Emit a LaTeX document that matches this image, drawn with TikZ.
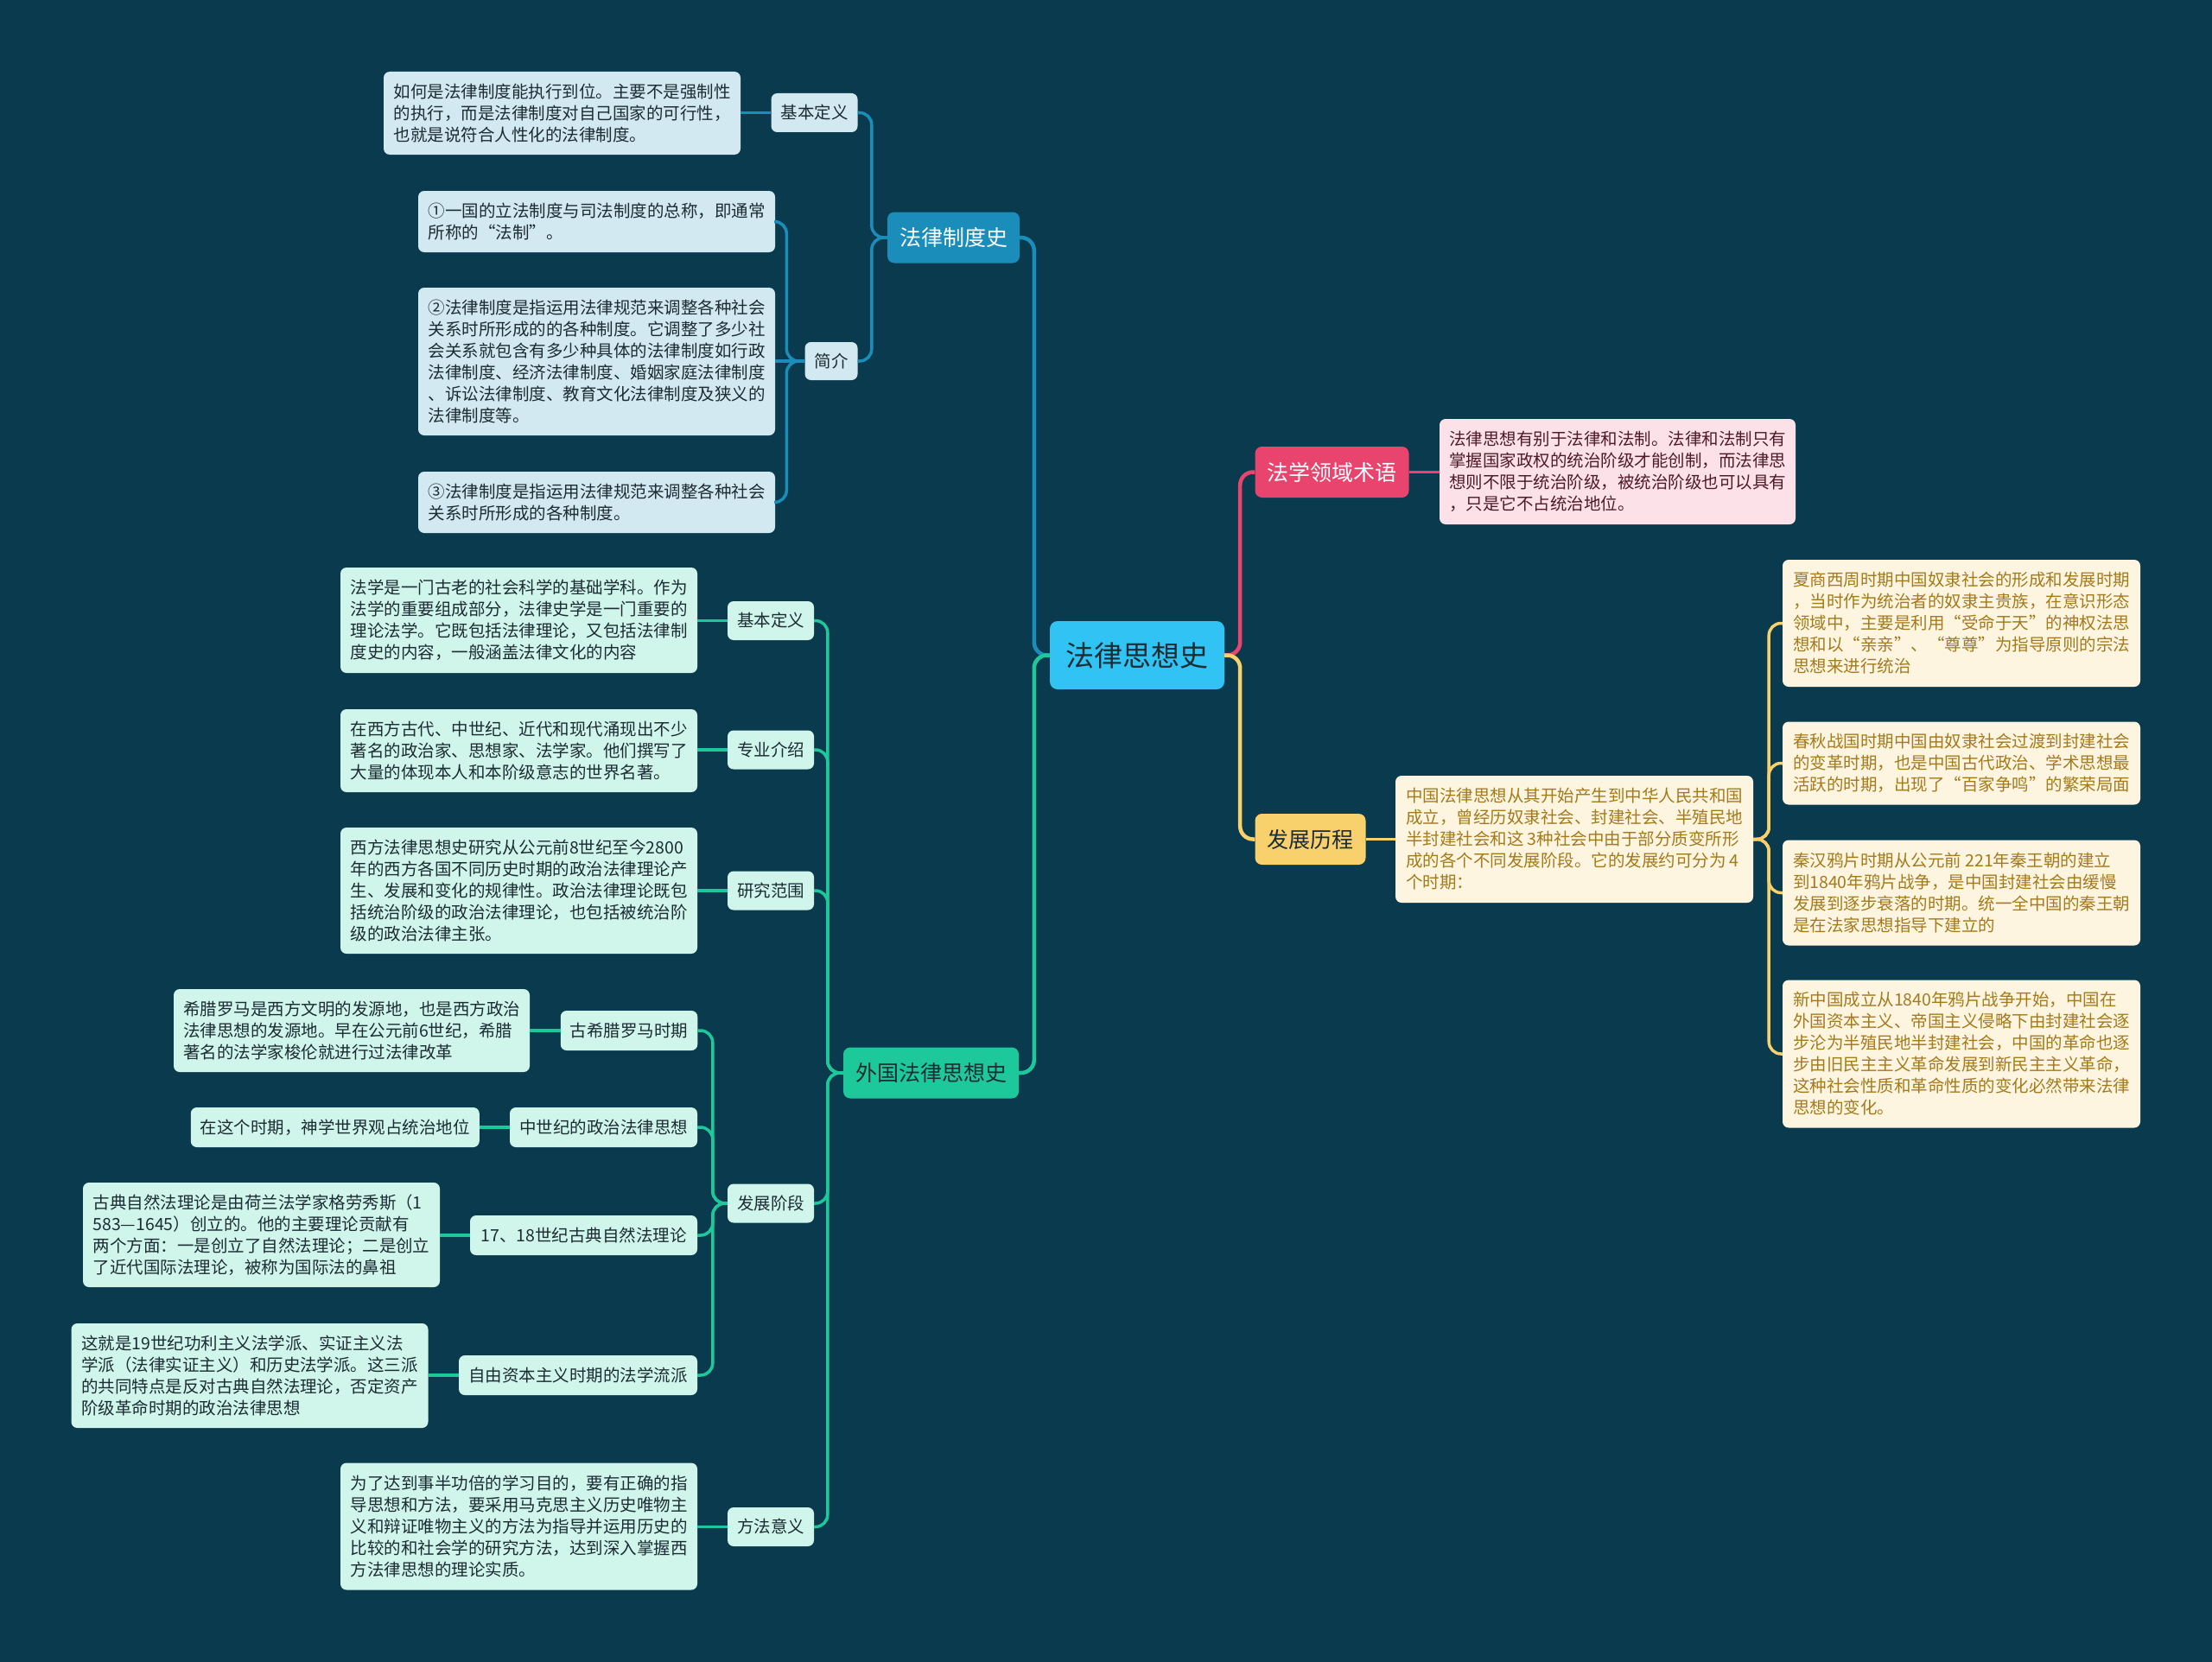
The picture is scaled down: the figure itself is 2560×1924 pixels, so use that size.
\documentclass[tikz,border=0pt]{standalone}
\usepackage{fontspec}
\setmainfont{Noto Sans CJK SC}
\definecolor{bgc}{HTML}{0A3A4D}
\definecolor{bluec}{HTML}{1B8DBB}
\definecolor{bluefill}{HTML}{D3E9F1}
\definecolor{pinkc}{HTML}{E8446E}
\definecolor{pinkfill}{HTML}{FCE2E8}
\definecolor{pinktext}{HTML}{4E1A29}
\definecolor{yelc}{HTML}{F8D16C}
\definecolor{yelfill}{HTML}{FDF5DF}
\definecolor{yeltext}{HTML}{A47A1C}
\definecolor{greenc}{HTML}{1DC99A}
\definecolor{greenfill}{HTML}{D0F5EB}
\definecolor{centerc}{HTML}{30C3F3}
\definecolor{darktext}{HTML}{1C2C33}
\tikzset{
  base/.style={rounded corners=7pt, align=left, inner xsep=11pt, inner ysep=0pt, font=\fontsize{19.5pt}{25pt}\selectfont},
  bluebox/.style={base, fill=bluefill, text=darktext},
  pinkbox/.style={base, fill=pinkfill, text=pinktext},
  yelbox/.style={base, fill=yelfill, text=yeltext},
  greenbox/.style={base, fill=greenfill, text=darktext},
  lvlone/.style={rounded corners=8pt, inner xsep=14pt, inner ysep=0pt, minimum height=59pt, font=\fontsize{25pt}{30pt}\selectfont},
  conn/.style={line width=3.5pt, rounded corners=14pt},
  mainconn/.style={line width=4.5pt, rounded corners=15pt},
}
\begin{document}
\begin{tikzpicture}[x=1pt,y=-1pt]
\fill[bgc] (0,0) rectangle (2560,1924);
\useasboundingbox (0,0) rectangle (2560,1924);

% center
\node[rounded corners=9pt, fill=centerc, text=darktext, minimum width=202pt, minimum height=79pt, inner sep=0pt, font=\fontsize{33pt}{38pt}\selectfont] (c) at (1316,758.5) {法律思想史};

% level one
\node[lvlone, fill=bluec, text=white, minimum width=153pt] (zd) at (1103.5,275) {法律制度史};
\node[lvlone, fill=greenc, text=darktext, minimum width=203pt] (wg) at (1077.5,1242) {外国法律思想史};
\node[lvlone, fill=pinkc, text=white, minimum width=177pt] (fx) at (1541.5,546.5) {法学领域术语};
\node[lvlone, fill=yelc, text=darktext, minimum width=127pt] (fz) at (1516.5,971.5) {发展历程};

% blue branch
\node[bluebox, align=center, minimum width=99pt, minimum height=45pt] (a1) at (942.5,130.5) {基本定义};
\node[bluebox, align=center, minimum width=60pt, minimum height=44pt] (jj) at (962,418) {简介};
\node[bluebox, minimum width=413pt, minimum height=96pt] (t1) at (650.5,131) {如何是法律制度能执行到位。主要不是强制性\\的执行，而是法律制度对自己国家的可行性，\\也就是说符合人性化的法律制度。};
\node[bluebox, minimum width=413pt, minimum height=71pt] (n1) at (690.5,256.5) {①一国的立法制度与司法制度的总称，即通常\\所称的“法制”。};
\node[bluebox, minimum width=413pt, minimum height=171pt] (n2) at (690.5,418.5) {②法律制度是指运用法律规范来调整各种社会\\关系时所形成的的各种制度。它调整了多少社\\会关系就包含有多少种具体的法律制度如行政\\法律制度、经济法律制度、婚姻家庭法律制度\\、诉讼法律制度、教育文化法律制度及狭义的\\法律制度等。};
\node[bluebox, minimum width=413pt, minimum height=71pt] (n3) at (690.5,581.5) {③法律制度是指运用法律规范来调整各种社会\\关系时所形成的各种制度。};

% pink branch
\node[pinkbox, minimum width=412pt, minimum height=122pt] (pt) at (1872,546) {法律思想有别于法律和法制。法律和法制只有\\掌握国家政权的统治阶级才能创制，而法律思\\想则不限于统治阶级，被统治阶级也可以具有\\，只是它不占统治地位。};

% yellow branch
\node[yelbox, minimum width=414pt, minimum height=147pt] (zt) at (1822,971.5) {中国法律思想从其开始产生到中华人民共和国\\成立，曾经历奴隶社会、封建社会、半殖民地\\半封建社会和这 3种社会中由于部分质变所形\\成的各个不同发展阶段。它的发展约可分为 4\\个时期：};
\node[yelbox, minimum width=414pt, minimum height=147pt] (r1) at (2270,721.5) {夏商西周时期中国奴隶社会的形成和发展时期\\，当时作为统治者的奴隶主贵族，在意识形态\\领域中，主要是利用“受命于天”的神权法思\\想和以“亲亲”、“尊尊”为指导原则的宗法\\思想来进行统治};
\node[yelbox, minimum width=414pt, minimum height=96pt] (r2) at (2270,883.5) {春秋战国时期中国由奴隶社会过渡到封建社会\\的变革时期，也是中国古代政治、学术思想最\\活跃的时期，出现了“百家争鸣”的繁荣局面};
\node[yelbox, minimum width=414pt, minimum height=122pt] (r3) at (2270,1033.5) {秦汉鸦片时期从公元前 221年秦王朝的建立\\到1840年鸦片战争，是中国封建社会由缓慢\\发展到逐步衰落的时期。统一全中国的秦王朝\\是在法家思想指导下建立的};
\node[yelbox, minimum width=414pt, minimum height=171pt] (r4) at (2270,1220) {新中国成立从1840年鸦片战争开始，中国在\\外国资本主义、帝国主义侵略下由封建社会逐\\步沦为半殖民地半封建社会，中国的革命也逐\\步由旧民主主义革命发展到新民主主义革命，\\这种社会性质和革命性质的变化必然带来法律\\思想的变化。};

% green branch labels
\node[greenbox, align=center, minimum width=100pt, minimum height=45pt] (b1) at (892,718.5) {基本定义};
\node[greenbox, align=center, minimum width=100pt, minimum height=45pt] (b2) at (892,868) {专业介绍};
\node[greenbox, align=center, minimum width=100pt, minimum height=45pt] (b3) at (892,1031) {研究范围};
\node[greenbox, align=center, minimum width=100pt, minimum height=45pt] (b4) at (892,1393) {发展阶段};
\node[greenbox, align=center, minimum width=100pt, minimum height=45pt] (b5) at (892,1767.5) {方法意义};
% green branch texts
\node[greenbox, minimum width=413pt, minimum height=122pt] (bt1) at (600.5,718) {法学是一门古老的社会科学的基础学科。作为\\法学的重要组成部分，法律史学是一门重要的\\理论法学。它既包括法律理论，又包括法律制\\度史的内容，一般涵盖法律文化的内容};
\node[greenbox, minimum width=413pt, minimum height=96pt] (bt2) at (600.5,869) {在西方古代、中世纪、近代和现代涌现出不少\\著名的政治家、思想家、法学家。他们撰写了\\大量的体现本人和本阶级意志的世界名著。};
\node[greenbox, minimum width=413pt, minimum height=146pt] (bt3) at (600.5,1031) {西方法律思想史研究从公元前8世纪至今2800\\年的西方各国不同历史时期的政治法律理论产\\生、发展和变化的规律性。政治法律理论既包\\括统治阶级的政治法律理论，也包括被统治阶\\级的政治法律主张。};
\node[greenbox, minimum width=413pt, minimum height=147pt] (bt5) at (600.5,1767) {为了达到事半功倍的学习目的，要有正确的指\\导思想和方法，要采用马克思主义历史唯物主\\义和辩证唯物主义的方法为指导并运用历史的\\比较的和社会学的研究方法，达到深入掌握西\\方法律思想的理论实质。};
% development stages
\node[greenbox, align=center, minimum width=158pt, minimum height=46pt] (c1) at (728,1193) {古希腊罗马时期};
\node[greenbox, align=center, minimum width=217pt, minimum height=46pt] (c2) at (698.5,1305) {中世纪的政治法律思想};
\node[greenbox, align=center, minimum width=263pt, minimum height=46pt] (c3) at (675.5,1430) {17、18世纪古典自然法理论};
\node[greenbox, align=center, minimum width=276pt, minimum height=46pt] (c4) at (669,1592) {自由资本主义时期的法学流派};
\node[greenbox, minimum width=412pt, minimum height=96pt] (ct1) at (407,1193) {希腊罗马是西方文明的发源地，也是西方政治\\法律思想的发源地。早在公元前6世纪，希腊\\著名的法学家梭伦就进行过法律改革};
\node[greenbox, minimum width=333pt, minimum height=46pt] (ct2) at (387.75,1305) {在这个时期，神学世界观占统治地位};
\node[greenbox, minimum width=413pt, minimum height=121pt] (ct3) at (302.5,1429.5) {古典自然法理论是由荷兰法学家格劳秀斯（1\\583—1645）创立的。他的主要理论贡献有\\两个方面：一是创立了自然法理论；二是创立\\了近代国际法理论，被称为国际法的鼻祖};
\node[greenbox, minimum width=413pt, minimum height=121pt] (ct4) at (289,1592.5) {这就是19世纪功利主义法学派、实证主义法\\学派（法律实证主义）和历史法学派。这三派\\的共同特点是反对古典自然法理论，否定资产\\阶级革命时期的政治法律思想};

% ---- connectors ----
% main
\draw[mainconn, bluec] (c.west) -- ([xshift=-18pt]c.west) |- (zd.east);
\draw[mainconn, greenc] (c.west) -- ([xshift=-18pt]c.west) |- (wg.east);
\draw[mainconn, pinkc] (c.east) -- ([xshift=18pt]c.east) |- (fx.west);
\draw[mainconn, yelc] (c.east) -- ([xshift=18pt]c.east) |- (fz.west);
% blue
\draw[conn, bluec] (zd.west) -- ([xshift=-18pt]zd.west) |- (a1.east);
\draw[conn, bluec] (zd.west) -- ([xshift=-18pt]zd.west) |- (jj.east);
\draw[conn, bluec] (a1.west) -- (a1.west -| t1.east);
\draw[conn, bluec] (jj.west) -- ([xshift=-21pt]jj.west) |- (n1.east);
\draw[conn, bluec] (jj.west) -- ([xshift=-21pt]jj.west) |- (n3.east);
\draw[conn, bluec] (jj.west) -- (jj.west -| n2.east);
% pink
\draw[conn, pinkc] (fx.east) -- (fx.east -| pt.west);
% yellow
\draw[conn, yelc] (fz.east) -- (fz.east -| zt.west);
\draw[conn, yelc] (zt.east) -- ([xshift=18pt]zt.east) |- (r1.west);
\draw[conn, yelc] (zt.east) -- ([xshift=18pt]zt.east) |- (r2.west);
\draw[conn, yelc] (zt.east) -- ([xshift=18pt]zt.east) |- (r3.west);
\draw[conn, yelc] (zt.east) -- ([xshift=18pt]zt.east) |- (r4.west);
% green
\draw[conn, greenc] (wg.west) -- ([xshift=-18pt]wg.west) |- (b1.east);
\draw[conn, greenc] (wg.west) -- ([xshift=-18pt]wg.west) |- (b2.east);
\draw[conn, greenc] (wg.west) -- ([xshift=-18pt]wg.west) |- (b3.east);
\draw[conn, greenc] (wg.west) -- ([xshift=-18pt]wg.west) |- (b4.east);
\draw[conn, greenc] (wg.west) -- ([xshift=-18pt]wg.west) |- (b5.east);
\draw[conn, greenc] (b1.west) -- (b1.west -| bt1.east);
\draw[conn, greenc] (b2.west) -- (b2.west -| bt2.east);
\draw[conn, greenc] (b3.west) -- (b3.west -| bt3.east);
\draw[conn, greenc] (b5.west) -- (b5.west -| bt5.east);
\draw[conn, greenc] (b4.west) -- ([xshift=-17pt]b4.west) |- (c1.east);
\draw[conn, greenc] (b4.west) -- ([xshift=-17pt]b4.west) |- (c2.east);
\draw[conn, greenc] (b4.west) -- ([xshift=-17pt]b4.west) |- (c3.east);
\draw[conn, greenc] (b4.west) -- ([xshift=-17pt]b4.west) |- (c4.east);
\draw[conn, greenc] (c1.west) -- (c1.west -| ct1.east);
\draw[conn, greenc] (c2.west) -- (c2.west -| ct2.east);
\draw[conn, greenc] (c3.west) -- (c3.west -| ct3.east);
\draw[conn, greenc] (c4.west) -- (c4.west -| ct4.east);
\end{tikzpicture}
\end{document}
